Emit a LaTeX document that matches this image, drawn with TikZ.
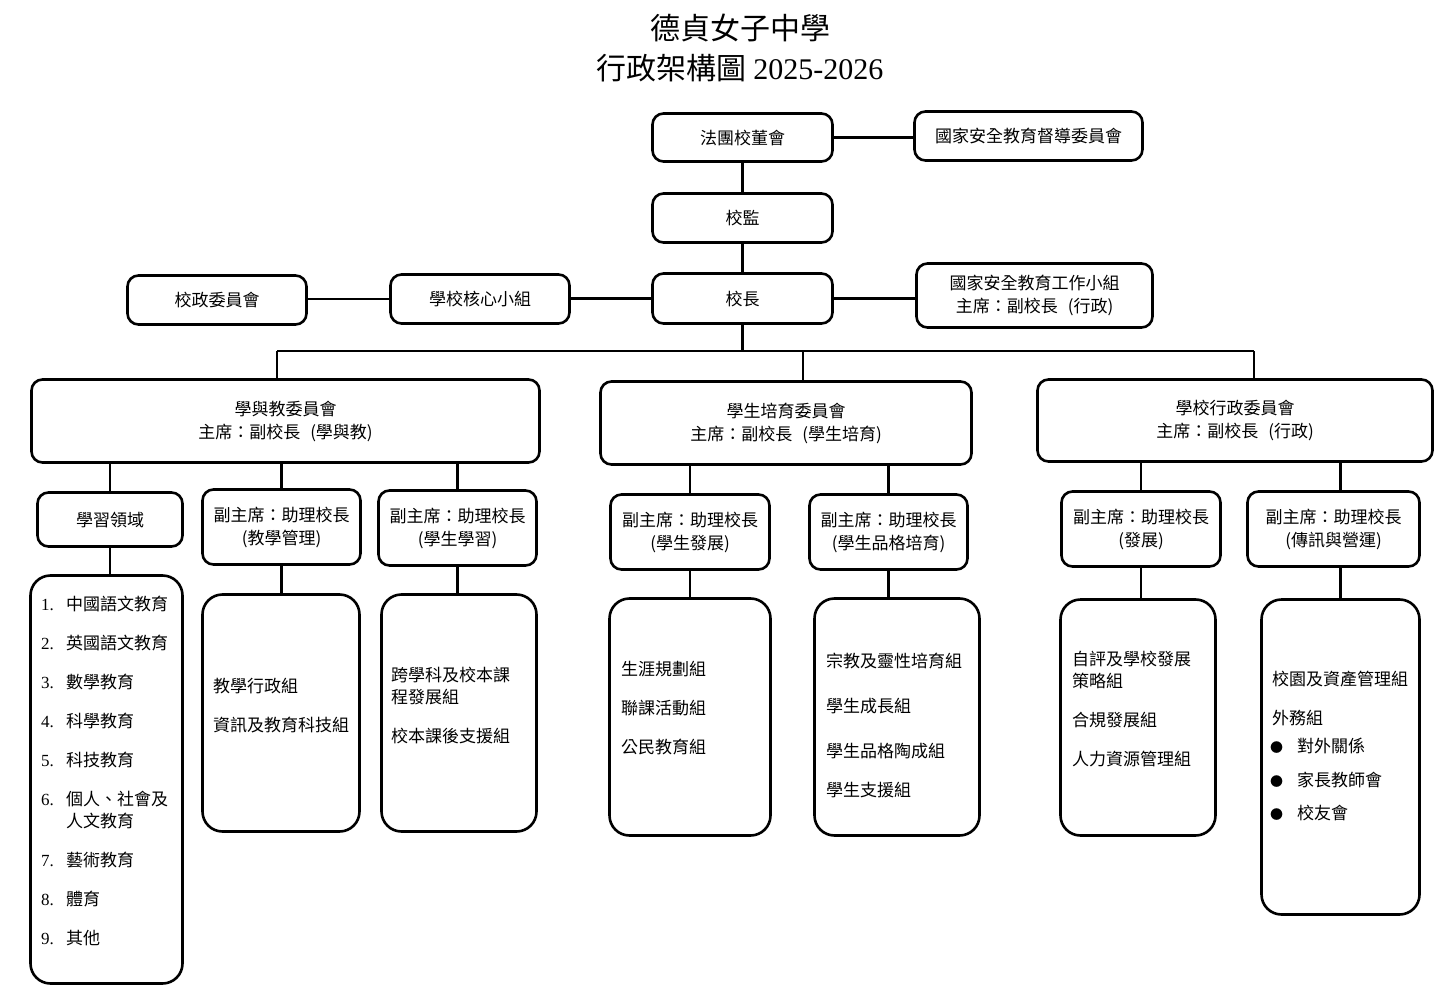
\documentclass[tikz,border=0pt]{standalone}
\usepackage{fontspec}
\setmainfont{Noto Sans CJK TC}
\newfontfamily\lat{Liberation Serif}
\newcommand{\gapp}{\hspace{10pt}}
\begin{document}
\begin{tikzpicture}[x=1pt,y=-1pt,
  box/.style={draw, line width=2.6pt, rounded corners=11pt, fill=white, align=center, inner sep=0pt, font=\fontsize{17}{23}\selectfont},
  tall/.style={box, rounded corners=20pt},
  con/.style={line width=2.4pt},
  txt/.style={anchor=west, align=left, inner sep=0pt, font=\fontsize{17}{22}\selectfont},
  ttl/.style={inner sep=0pt, font=\fontsize{30}{34}\selectfont},
]
\useasboundingbox (0,0) rectangle (1450,1000);

% title
\node[ttl] (t1) at (740,28) {德貞女子中學};
\node[ttl] (t2) at (740,68) {行政架構圖 {\lat 2025-2026}};

\coordinate (b1) at (277,351);
\coordinate (b2) at (803,351);
\coordinate (b3) at (1254,351);

% top boxes
\node[box, minimum width=180pt, minimum height=48pt] (dong) at (742.5,137.5) {法團校董會};
\node[box, minimum width=228pt, minimum height=49pt] (nsc) at (1028.5,136) {國家安全教育督導委員會};
\node[box, minimum width=180pt, minimum height=49pt] (jian) at (742.5,218) {校監};
\node[box, minimum width=180pt, minimum height=50pt] (zhang) at (742.5,298.5) {校長};
\node[box, minimum width=179pt, minimum height=49pt] (core) at (480,299) {學校核心小組};
\node[box, minimum width=179pt, minimum height=49pt] (xz) at (217,300) {校政委員會};
\node[box, minimum width=236pt, minimum height=64pt] (nsw) at (1034.5,295.5) {國家安全教育工作小組\\主席：副校長\gapp(行政)};

% committees
\node[box, minimum width=508pt, minimum height=83pt] (c1) at (285.5,421) {學與教委員會\\主席：副校長\gapp(學與教)};
\node[box, minimum width=371pt, minimum height=83pt] (c2) at (786,423) {學生培育委員會\\主席：副校長\gapp(學生培育)};
\node[box, minimum width=395pt, minimum height=82pt] (c3) at (1235,420.5) {學校行政委員會\\主席：副校長\gapp(行政)};

% second row
\node[box, minimum width=145pt, minimum height=54pt] (s1) at (110,519.5) {學習領域};
\node[box, minimum width=158pt, minimum height=75pt] (s2) at (281.5,527) {副主席：助理校長\\(教學管理)};
\node[box, minimum width=158pt, minimum height=75pt] (s3) at (457.5,528) {副主席：助理校長\\(學生學習)};
\node[box, minimum width=159pt, minimum height=75pt] (s4) at (690,532) {副主席：助理校長\\(學生發展)};
\node[box, minimum width=158pt, minimum height=75pt] (s5) at (888.5,532) {副主席：助理校長\\(學生品格培育)};
\node[box, minimum width=159pt, minimum height=75pt] (s6) at (1141,529) {副主席：助理校長\\(發展)};
\node[box, minimum width=172pt, minimum height=75pt] (s7) at (1333.5,529) {副主席：助理校長\\(傳訊與營運)};

% third row
\node[tall, minimum width=152pt, minimum height=408pt] (r1) at (106.5,779.5) {};
\node[tall, minimum width=157pt, minimum height=237pt] (r2) at (281,713) {};
\node[tall, minimum width=155pt, minimum height=237pt] (r3) at (459,713) {};
\node[tall, minimum width=161pt, minimum height=237pt] (r4) at (690,717) {};
\node[tall, minimum width=165pt, minimum height=237pt] (r5) at (897,717) {};
\node[tall, minimum width=155pt, minimum height=236pt] (r6) at (1138,717.5) {};
\node[tall, minimum width=158pt, minimum height=315pt] (r7) at (1340.5,757) {};

% connectors
\begin{scope}[con]
\draw (dong.east) -- (nsc.west |- dong.east);
\draw (dong.south) -- (jian.north);
\draw (jian.south) -- (zhang.north);
\draw (zhang.west) -- (core.east |- zhang.west);
\draw (core.west) -- (xz.east |- core.west);
\draw (zhang.east) -- (nsw.west |- zhang.east);
\draw (zhang.south) -- (zhang.south |- b1);
\draw (b1) -- (b3);
\draw (b1) -- (b1 |- c1.north);
\draw (b2) -- (b2 |- c2.north);
\draw (b3) -- (b3 |- c3.north);
\draw (s1.north) -- (s1.north |- c1.south);
\draw (s2.north) -- (s2.north |- c1.south);
\draw (s3.north) -- (s3.north |- c1.south);
\draw (s4.north) -- (s4.north |- c2.south);
\draw (s5.north) -- (s5.north |- c2.south);
\draw (s6.north) -- (s6.north |- c3.south);
\draw (r7.north |- s7.north) -- (r7.north |- c3.south);
\draw (s1.south) -- (s1.south |- r1.north);
\draw (s2.south) -- (s2.south |- r2.north);
\draw (s3.south) -- (s3.south |- r3.north);
\draw (s4.south) -- (s4.south |- r4.north);
\draw (s5.south) -- (s5.south |- r5.north);
\draw (s6.south) -- (s6.south |- r6.north);
\draw (r7.north |- s7.south) -- (r7.north);
\end{scope}

% list of learning areas
\node[txt] (l1) at (41,604) {\makebox[25pt][l]{\lat 1.}中國語文教育};
\node[txt] (l2) at (41,643) {\makebox[25pt][l]{\lat 2.}英國語文教育};
\node[txt] (l3) at (41,682) {\makebox[25pt][l]{\lat 3.}數學教育};
\node[txt] (l4) at (41,721) {\makebox[25pt][l]{\lat 4.}科學教育};
\node[txt] (l5) at (41,760) {\makebox[25pt][l]{\lat 5.}科技教育};
\node[txt] (l6) at (41,810) {\makebox[25pt][l]{\lat 6.}個人、社會及\\\hspace*{25pt}人文教育};
\node[txt] (l7) at (41,860) {\makebox[25pt][l]{\lat 7.}藝術教育};
\node[txt] (l8) at (41,899) {\makebox[25pt][l]{\lat 8.}體育};
\node[txt] (l9) at (41,938) {\makebox[25pt][l]{\lat 9.}其他};

% group texts
\node[txt] (g21) at (213,686) {教學行政組};
\node[txt] (g22) at (213,725) {資訊及教育科技組};
\node[txt] (g31) at (391,686) {跨學科及校本課\\程發展組};
\node[txt] (g32) at (391,736) {校本課後支援組};
\node[txt] (g41) at (621,669) {生涯規劃組};
\node[txt] (g42) at (621,708) {聯課活動組};
\node[txt] (g43) at (621,747) {公民教育組};
\node[txt] (g51) at (826,661) {宗教及靈性培育組};
\node[txt] (g52) at (826,706) {學生成長組};
\node[txt] (g53) at (826,751) {學生品格陶成組};
\node[txt] (g54) at (826,790) {學生支援組};
\node[txt] (g61) at (1072,670) {自評及學校發展\\策略組};
\node[txt] (g62) at (1072,720) {合規發展組};
\node[txt] (g63) at (1072,759) {人力資源管理組};
\node[txt] (g71) at (1272,679) {校園及資產管理組};
\node[txt] (g72) at (1272,718) {外務組};
\node[txt] (g73) at (1270,746) {\makebox[27pt][l]{\fontsize{13}{13}\selectfont ●}對外關係};
\node[txt] (g74) at (1270,780) {\makebox[27pt][l]{\fontsize{13}{13}\selectfont ●}家長教師會};
\node[txt] (g75) at (1270,813) {\makebox[27pt][l]{\fontsize{13}{13}\selectfont ●}校友會};
\end{tikzpicture}
\end{document}
